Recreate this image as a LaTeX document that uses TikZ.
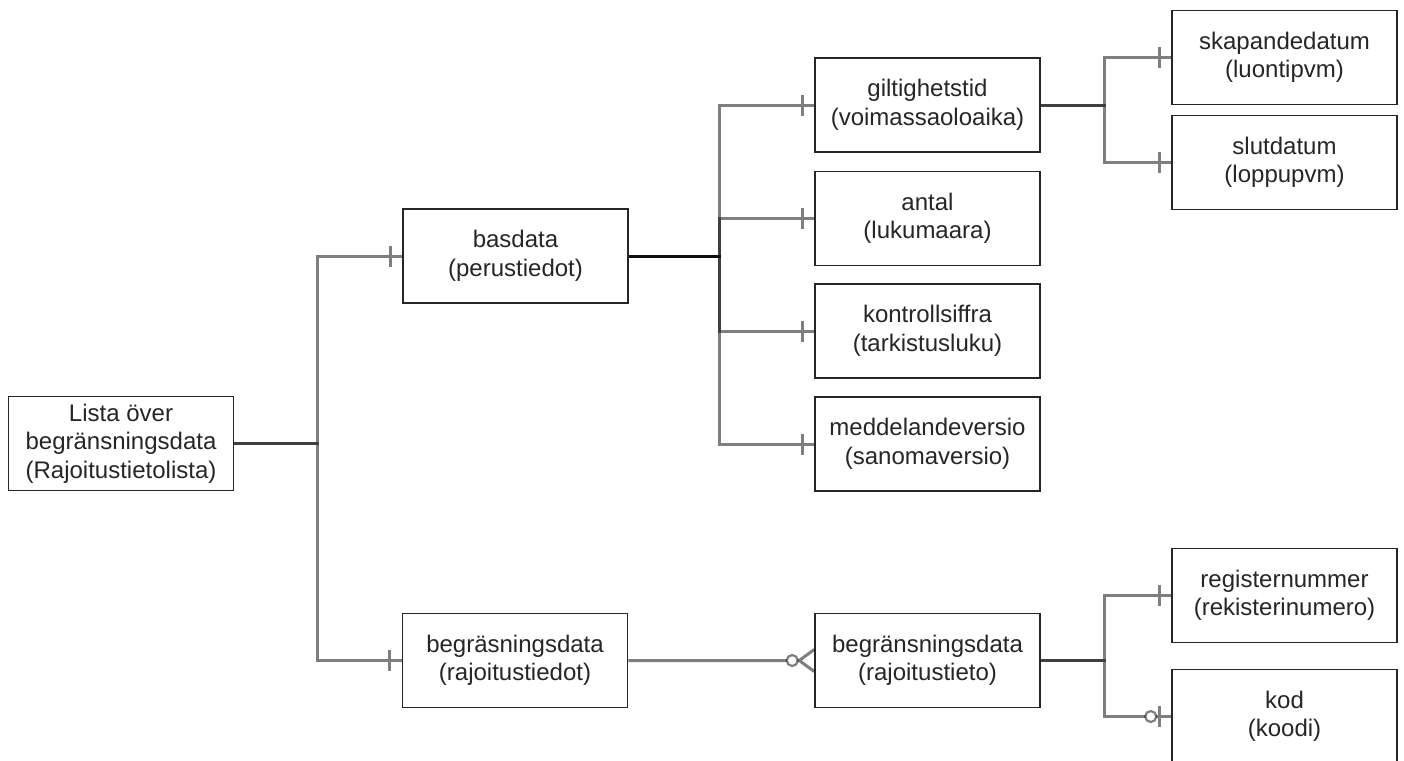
\documentclass[tikz,border=0pt]{standalone}
\usepackage{fontspec}
\setmainfont{Liberation Sans}
\begin{document}
\begin{tikzpicture}[x=1pt,y=-1pt,
  box/.style={draw=black!85, line width=1.5pt, minimum width=225pt, minimum height=94pt,
    align=center, font=\fontsize{24}{28.5}\selectfont, text=black!85, inner sep=0pt},
  conn/.style={draw=black, draw opacity=0.5, line width=3pt},
  ring/.style={circle, draw=black, draw opacity=0.5, line width=2.2pt, fill=white,
    minimum size=11pt, inner sep=0pt}]
\useasboundingbox (0,0) rectangle (1404,760);
\fill[white] (0,0) rectangle (1404,760);

\node[box] (root) at (121,443.5) {Lista över\\begränsningsdata\\(Rajoitustietolista)};
\node[box] (bas) at (515.5,256) {basdata\\(perustiedot)};
\node[box] (begr1) at (515,660.5) {begräsningsdata\\(rajoitustiedot)};
\node[box] (gil) at (927.5,105) {giltighetstid\\(voimassaoloaika)};
\node[box] (ant) at (927.5,218.5) {antal\\(lukumaara)};
\node[box] (kon) at (927.5,331) {kontrollsiffra\\(tarkistusluku)};
\node[box] (med) at (927.5,444) {meddelandeversio\\(sanomaversio)};
\node[box] (begr2) at (927.5,660.5) {begränsningsdata\\(rajoitustieto)};
\node[box] (ska) at (1284.5,57.5) {skapandedatum\\(luontipvm)};
\node[box] (slut) at (1284.5,162.5) {slutdatum\\(loppupvm)};
\node[box] (reg) at (1284.5,595.5) {registernummer\\(rekisterinumero)};
\node[box] (kod) at (1284.5,716.5) {kod\\(koodi)};

\coordinate (j1) at (317.5,443.5);
\coordinate (j2) at (719.5,256);
\coordinate (j3) at (1104.5,105);
\coordinate (j4) at (1104.5,660.5);

% root -> children
\draw[conn] (root.east) -- (j1) |- (bas.west)
  ([xshift=-12pt,yshift=10.5pt]bas.west) -- ([xshift=-12pt,yshift=-10.5pt]bas.west);
\draw[conn] (root.east) -- (j1) |- (begr1.west)
  ([xshift=-12pt,yshift=10.5pt]begr1.west) -- ([xshift=-12pt,yshift=-10.5pt]begr1.west);

% basdata -> children
\foreach \c in {gil,ant,kon,med}{
  \draw[conn] (bas.east) -- (j2) |- (\c.west)
    ([xshift=-12pt,yshift=10.5pt]\c.west) -- ([xshift=-12pt,yshift=-10.5pt]\c.west);
}

% giltighetstid -> children
\foreach \c in {ska,slut}{
  \draw[conn] (gil.east) -- (j3) |- (\c.west)
    ([xshift=-12pt,yshift=10.5pt]\c.west) -- ([xshift=-12pt,yshift=-10.5pt]\c.west);
}

% begr1 -> begr2 (zero or many)
\draw[conn] (begr1.east) -- ([xshift=-15pt]begr2.west)
  ([yshift=11pt]begr2.west) -- ([xshift=-15pt]begr2.west) -- ([yshift=-11pt]begr2.west);
\node[ring] (r1) at ([xshift=-22pt]begr2.west) {};

% begr2 -> children
\draw[conn] (begr2.east) -- (j4) |- (reg.west)
  ([xshift=-12pt,yshift=10.5pt]reg.west) -- ([xshift=-12pt,yshift=-10.5pt]reg.west);
\draw[conn] (begr2.east) -- (j4) |- (kod.west)
  ([xshift=-11.5pt,yshift=10.5pt]kod.west) -- ([xshift=-11.5pt,yshift=-10.5pt]kod.west);
\node[ring] (r2) at ([xshift=-20.5pt]kod.west) {};
\end{tikzpicture}
\end{document}
